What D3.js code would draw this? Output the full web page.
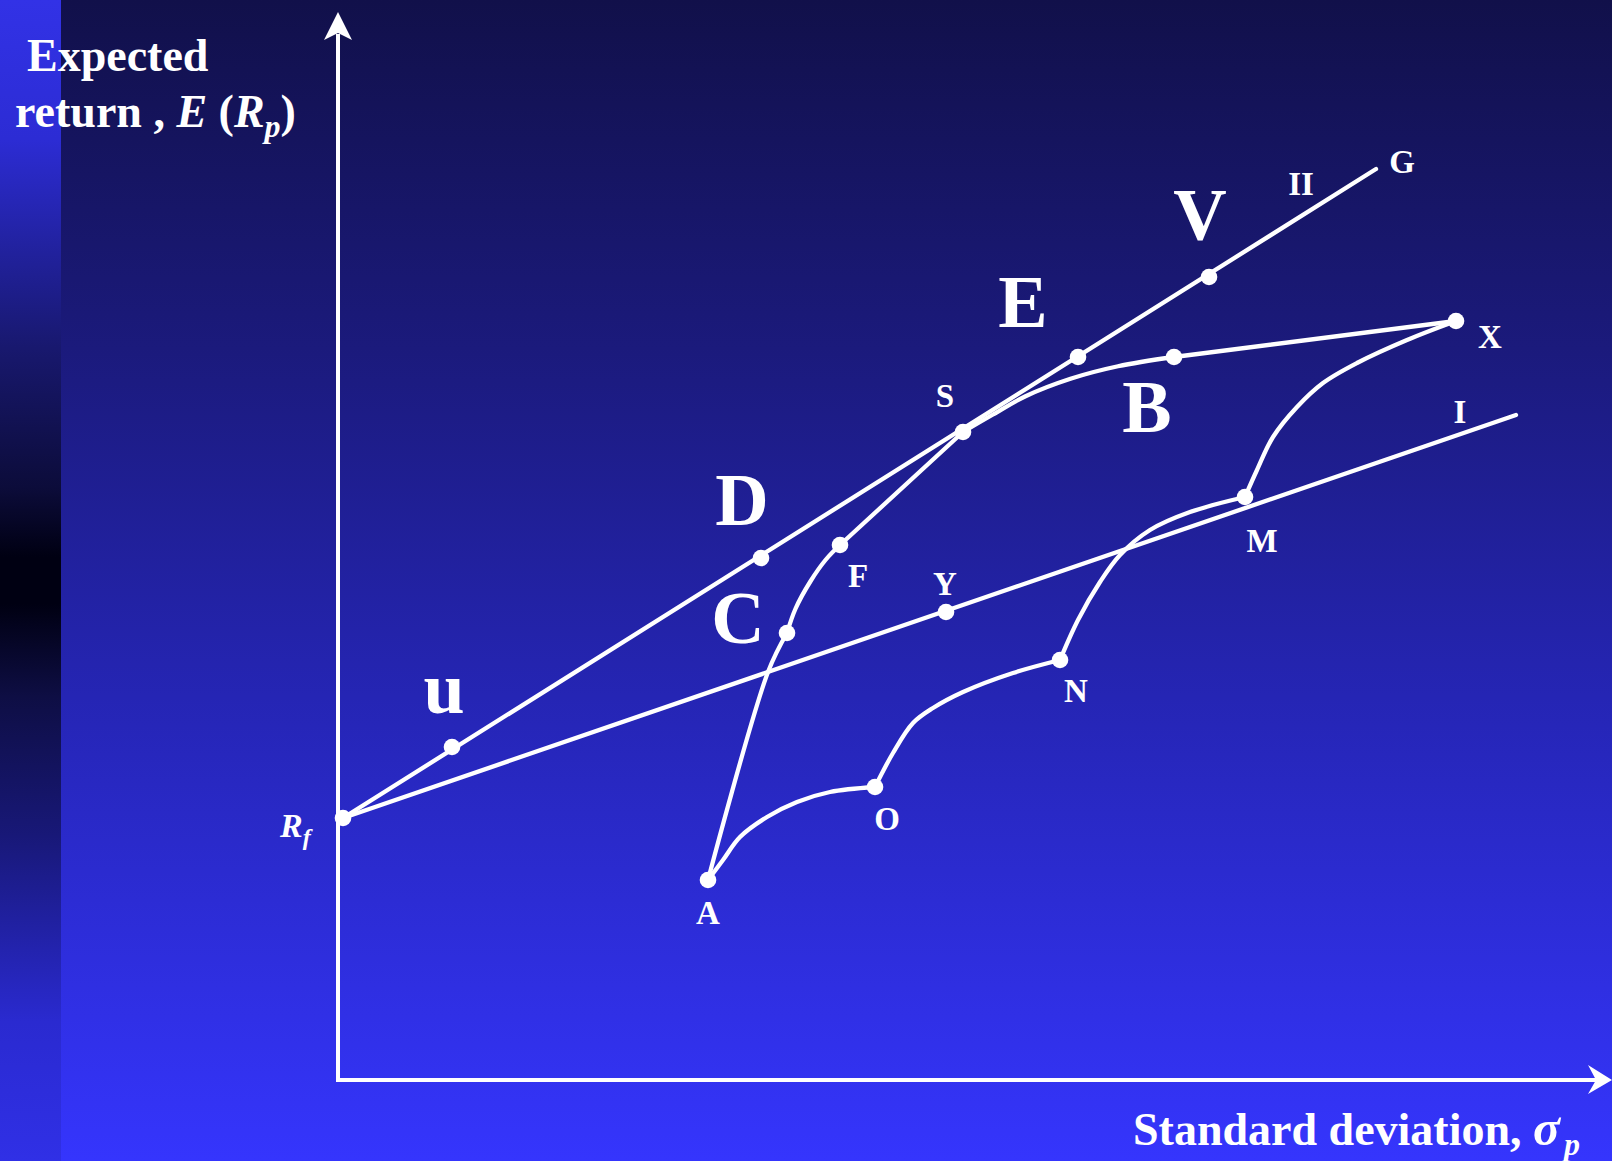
<!DOCTYPE html>
<html>
<head>
<meta charset="utf-8">
<script src="https://cdn.jsdelivr.net/npm/d3@7"></script>
<style>
  body { margin: 0; background: #11104a; }
  text { font-family: "Liberation Serif", "Times New Roman", serif; font-weight: bold; fill: #fff; }
</style>
</head>
<body>
<div id="chart"></div>
<script>
// values, in sigma / E(R) units (1 unit ~ 25px)
var pointNames  = ["Rf", "u", "D", "S", "E", "V", "C", "F", "B", "X", "Y", "M", "N", "O", "A"];
var pointSigma  = [0.2, 4.56, 16.92, 25.0, 29.6, 34.84, 17.96, 20.08, 33.44, 44.72, 24.32, 36.28, 28.88, 21.48, 14.8];
var pointReturn = [10.48, 13.32, 20.88, 25.92, 28.92, 32.12, 17.88, 21.4, 28.92, 30.36, 18.72, 23.32, 16.8, 11.72, 8.0];

// straight lines from Rf
var lineII = [[0.2, 10.48], [41.52, 36.44]];
var lineI  = [[0.2, 10.48], [47.12, 26.6]];

// frontier A-C-F-S-B-X
var segAC = [[14.8, 8.0], [17.2, 16.32], [17.96, 17.88]];
var segCF = [[17.96, 17.88], [18.3, 18.85], [18.9, 19.95], [19.5, 20.8], [20.08, 21.4]];
var segFS = [[20.08, 21.4], [25.0, 25.92]];
var segSB = [[25.0, 25.92], [26.2, 26.62], [27.5, 27.35], [29.3, 28.05], [31.2, 28.55], [33.44, 28.92]];
var segBX = [[33.44, 28.92], [44.72, 30.36]];

// lower curve A-O-N-M-X
var segAO = [[14.8, 8.0], [15.4, 8.8], [16.08, 9.72], [17.16, 10.52], [18.36, 11.12], [19.68, 11.52], [21.48, 11.72]];
var segON = [[21.48, 11.72], [22.2, 13.08], [23.0, 14.28], [23.8, 14.88], [25.0, 15.52], [27.0, 16.28], [28.88, 16.8]];
var segNM = [[28.88, 16.8], [29.6, 18.4], [30.48, 19.92], [31.28, 21.0], [32.48, 22.0], [34.08, 22.72], [36.28, 23.32]];
var segMX = [[36.28, 23.32], [36.76, 24.4], [37.4, 25.72], [38.36, 26.92], [39.4, 27.88], [40.76, 28.68], [42.76, 29.6], [44.72, 30.36]];

// letter labels [text, sigma, return]
var bigLabels = [["u", 4.24, 14.68], ["D", 16.16, 22.2], ["C", 16.0, 17.48], ["E", 27.4, 30.12], ["V", 34.48, 33.6], ["B", 32.36, 25.92]];
var smallLabels = [["II", 38.52, 35.4], ["G", 42.56, 36.28], ["X", 46.08, 29.28], ["I", 44.88, 26.28], ["M", 36.96, 21.12],
                   ["S", 24.28, 26.92], ["F", 20.8, 19.72], ["Y", 24.28, 19.4], ["N", 29.52, 15.12], ["O", 21.96, 10.0], ["A", 14.8, 6.24]];

var width = 1612, height = 1161;

var svg = d3.select("#chart").append("svg")
    .attr("width", width)
    .attr("height", height)
    .style("display", "block");

var defs = svg.append("defs");
var bg = defs.append("linearGradient").attr("id", "bg").attr("x1", 0).attr("y1", 0).attr("x2", 0).attr("y2", 1);
[[0, "#11104a"], [0.3, "#1b1a7c"], [0.6, "#2525b4"], [1, "#3535fd"]].forEach(function(s) {
    bg.append("stop").attr("offset", s[0]).attr("stop-color", s[1]);
});
var strip = defs.append("linearGradient").attr("id", "strip").attr("x1", 0).attr("y1", 0).attr("x2", 0).attr("y2", 1);
[[0, "#3232e6"], [0.12, "#2c2cd4"], [0.3, "#18186e"], [0.42, "#0c0c3a"], [0.48, "#000012"], [0.52, "#000012"],
 [0.6, "#0e0e44"], [0.72, "#181878"], [0.88, "#2a2ad0"], [1, "#3030e6"]].forEach(function(s) {
    strip.append("stop").attr("offset", s[0]).attr("stop-color", s[1]);
});

svg.append("rect").attr("width", width).attr("height", height).attr("fill", "url(#bg)");
svg.append("rect").attr("width", 61).attr("height", height).attr("fill", "url(#strip)");

var xScale = d3.scaleLinear().domain([0, 51]).range([338, 1613]);
var yScale = d3.scaleLinear().domain([0, 40]).range([1080, 80]);

// axes with arrow heads
var x0 = xScale(0), y0 = yScale(0);
var g = svg.append("g");
g.append("line").attr("x1", x0).attr("y1", y0 + 2).attr("x2", x0).attr("y2", 34)
    .attr("stroke", "#fff").attr("stroke-width", 4);
g.append("line").attr("x1", x0 - 2).attr("y1", y0).attr("x2", 1598).attr("y2", y0)
    .attr("stroke", "#fff").attr("stroke-width", 4);
g.append("path").attr("d", `M${x0},12 L${x0 + 14},40 L${x0},33 L${x0 - 14},40 Z`).attr("fill", "#fff");
g.append("path").attr("d", `M1612,${y0} L1588,${y0 - 15} L1596,${y0} L1588,${y0 + 14} Z`).attr("fill", "#fff");

var straight = d3.line().x(function(d) { return xScale(d[0]); }).y(function(d) { return yScale(d[1]); });
var smooth = d3.line().x(function(d) { return xScale(d[0]); }).y(function(d) { return yScale(d[1]); })
    .curve(d3.curveCatmullRom.alpha(0.5));

var curves = svg.append("g").attr("fill", "none").attr("stroke", "#fff").attr("stroke-width", 4.3)
    .attr("stroke-linecap", "round").attr("stroke-linejoin", "round");
[lineII, lineI, segFS, segBX].forEach(function(d) { curves.append("path").attr("d", straight(d)); });
[segAC, segCF, segSB, segAO, segON, segNM, segMX].forEach(function(d) { curves.append("path").attr("d", smooth(d)); });

svg.selectAll("circle.pt")
    .data(pointNames)
    .enter()
    .append("circle")
        .attr("class", "pt")
        .attr("cx", function(d, i) { return xScale(pointSigma[i]); })
        .attr("cy", function(d, i) { return yScale(pointReturn[i]); })
        .attr("r", 8.3)
        .attr("fill", "#fff");

svg.selectAll("text.big")
    .data(bigLabels)
    .enter()
    .append("text")
        .attr("class", "big")
        .attr("x", function(d) { return xScale(d[1]); })
        .attr("y", function(d) { return yScale(d[2]); })
        .attr("text-anchor", "middle")
        .attr("font-size", 74)
        .text(function(d) { return d[0]; });

svg.selectAll("text.small")
    .data(smallLabels)
    .enter()
    .append("text")
        .attr("class", "small")
        .attr("x", function(d) { return xScale(d[1]); })
        .attr("y", function(d) { return yScale(d[2]); })
        .attr("text-anchor", "middle")
        .attr("font-size", 33)
        .text(function(d) { return d[0]; });

// R_f label next to the intercept
var rf = svg.append("text").attr("x", xScale(-2.32)).attr("y", yScale(9.72)).attr("font-size", 34);
rf.append("tspan").attr("font-style", "italic").text("R");
rf.append("tspan").attr("font-style", "italic").attr("font-size", 24).attr("dy", 8).text("f");

// axis titles
svg.append("text").attr("x", 27).attr("y", 71).attr("font-size", 46).text("Expected");
var yt = svg.append("text").attr("x", 15).attr("y", 127).attr("font-size", 46);
yt.append("tspan").text("return , ");
yt.append("tspan").attr("font-style", "italic").text("E");
yt.append("tspan").text(" (");
yt.append("tspan").attr("font-style", "italic").text("R");
yt.append("tspan").attr("font-style", "italic").attr("font-size", 32).attr("dy", 10).text("p");
yt.append("tspan").attr("dy", -10).text(")");

var xt = svg.append("text").attr("x", 1133).attr("y", 1145).attr("font-size", 46);
xt.append("tspan").text("Standard deviation, ");
xt.append("tspan").attr("font-style", "italic").attr("font-size", 50).text("σ");
xt.append("tspan").attr("font-style", "italic").attr("font-size", 32).attr("dx", 4).attr("dy", 10).text("p");
</script>
</body>
</html>
